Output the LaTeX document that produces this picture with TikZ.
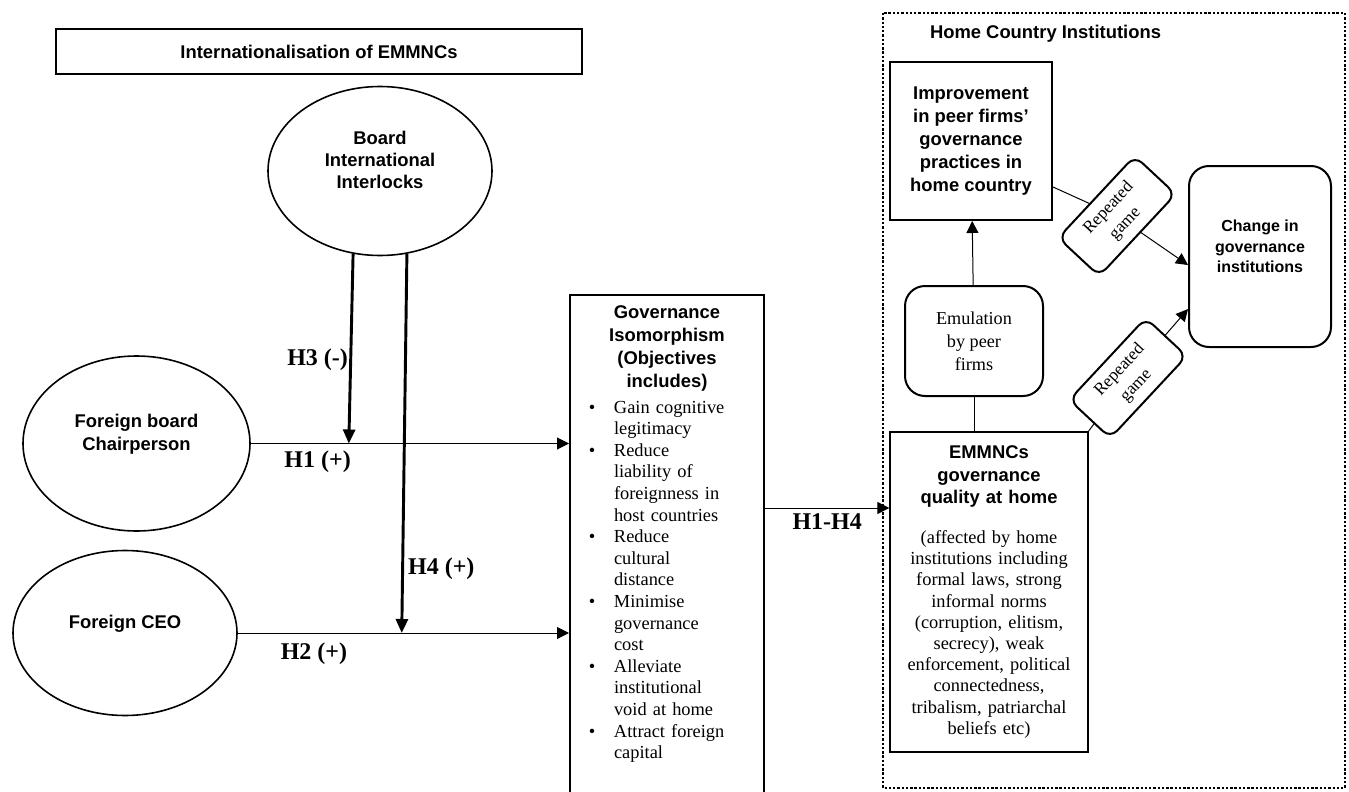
\documentclass[tikz,border=0pt]{standalone}
\usepackage{fontspec}
\setmainfont{Liberation Serif}
\setsansfont{Liberation Sans}
\usetikzlibrary{shapes.geometric,arrows.meta,positioning}

\newcommand{\hdfont}{\sffamily\bfseries\fontsize{13.8}{16.8}\selectfont}
\newcommand{\bodyfont}{\rmfamily\mdseries\fontsize{13.8}{15.9}\selectfont}
\newcommand{\bul}{\makebox[33pt]{\textbullet}}

\tikzset{
  sqbox/.style={draw, line width=1.5pt, align=center, inner sep=2pt, font=\hdfont},
  oval/.style={ellipse, draw, line width=1.2pt, align=center, inner sep=0pt, font=\hdfont},
  softbox/.style={draw, line width=1.5pt, rounded corners=15pt, align=center},
  gamebox/.style={draw, line width=1.5pt, rounded corners=7.5pt, rotate=47, align=center,
    minimum width=84pt, minimum height=42pt, inner sep=1pt, font=\rmfamily\fontsize{13}{17}\selectfont},
  conn/.style={line width=0.75pt, -{Triangle[length=9pt,width=9pt]}},
  link/.style={line width=0.75pt},
  modarrow/.style={line width=2.2pt, -{Triangle[length=10.5pt,width=9pt]}},
  hyp/.style={font=\rmfamily\bfseries\fontsize{18}{20}\selectfont, inner sep=1pt},
}

\begin{document}
\begin{tikzpicture}[x=0.75pt, y=-0.75pt]
  \useasboundingbox (0,0) rectangle (1349,792);
  % Left part: the board and its foreign members.
  \node[sqbox, minimum width=394.5pt, minimum height=33.75pt] (intl) at (319,51.5) {Internationalisation of EMMNCs};
  \node[oval, minimum width=168pt, minimum height=126.75pt] (board) at (380,171) {Board\\International\\Interlocks\\\mbox{}};
  \node[oval, minimum width=170.25pt, minimum height=131.25pt] (chair) at (136.5,443.5) {Foreign board\\Chairperson\\\mbox{}};
  \node[oval, minimum width=168pt, minimum height=123.75pt] (ceo) at (125,633) {Foreign CEO\\\mbox{}};
  % The isomorphism box runs past the bottom edge.
  \node[sqbox, text width=145.5pt, inner xsep=0pt, inner ysep=8pt, anchor=north] (gov) at (667,294) {%
    \fontsize{13.8}{17.25}\selectfont Governance\\Isomorphism\\(Objectives\\includes)\par
    \vspace{4pt}
    {\raggedright\noindent\rmfamily\mdseries\fontsize{13.8}{16.2}\selectfont
    \begin{tabular}{@{}l@{}l@{}}
      \bul & Gain cognitive\\ & legitimacy\\
      \bul & Reduce\\ & liability of\\ & foreignness in\\ & host countries\\
      \bul & Reduce\\ & cultural\\ & distance\\
      \bul & Minimise\\ & governance\\ & cost\\
      \bul & Alleviate\\ & institutional\\ & void at home\\
      \bul & Attract foreign\\ & capital\\
    \end{tabular}\par}
    \noindent\rule{0pt}{60pt}};
  % Right part: home country institutions.
  \draw[line width=2pt, dash pattern=on 1.8pt off 1.4pt] (883,13) rectangle (1345,788);
  \node[font=\hdfont] (homelbl) at (1045.5,34) {Home Country Institutions};
  \node[sqbox, minimum width=121.5pt, minimum height=118.5pt, font=\sffamily\bfseries\fontsize{13.8}{17.25}\selectfont] (improve) at (971,141) {Improvement\\in peer firms'\\governance\\practices in\\home country};
  \node[softbox, minimum width=103.5pt, minimum height=82.5pt, font=\rmfamily\fontsize{13.65}{17.25}\selectfont] (emul) at (974,341) {Emulation\\by peer\\firms};
  \node[softbox, minimum width=106.5pt, minimum height=135.75pt, font=\sffamily\bfseries\fontsize{12}{15.4}\selectfont] (change) at (1260,256.5) {Change in\\governance\\institutions\\\mbox{}};
  \node[sqbox, text width=144pt, minimum height=240pt] (emmnc) at (989,592) {%
    EMMNCs\\governance\\quality at home\par
    \vspace{14pt}
    {\bodyfont (affected by home\\institutions including\\formal laws, strong\\informal norms\\(corruption, elitism,\\secrecy), weak\\enforcement, political\\connectedness,\\tribalism, patriarchal\\beliefs etc)\par}};
  \node[gamebox] (game1) at (1117,216) {Repeated\\game};
  \node[gamebox] (game2) at (1128,378) {Repeated\\game};
  % Hypotheses H1 to H4.
  \draw[conn] (chair.east) -- node[hyp, below=4pt, pos=.21] (h1lbl) {H1 (+)} coordinate[pos=.308] (h3end) (chair.east -| gov.west);
  \draw[conn] (ceo.east) -- node[hyp, below=6pt, pos=.23] (h2lbl) {H2 (+)} coordinate[pos=.495] (h4end) (ceo.east -| gov.west);
  \draw[modarrow] (board.252) -- node[hyp, left, pos=.56] (h3lbl) {H3 (-)} (h3end);
  \draw[modarrow] (board.288) -- node[hyp, right=2pt, pos=.83] (h4lbl) {H4 (+)} (h4end);
  \coordinate (h14start) at ([yshift=-160.5pt]gov.north east);
  \draw[conn] (h14start) -- node[hyp, below=3pt] (h14lbl) {H1-H4} (h14start -| emmnc.west);
  % Links inside the home country.
  \draw[conn] (emul) -- (improve);
  \draw[link] (emul.south) -- (emul.south |- emmnc.north);
  \draw[link] ([yshift=-34.5pt]improve.east) -- (game1);
  \draw[conn] (game1) -- ([yshift=-6.4pt]change.west);
  \draw[link] (emmnc.north east) -- (game2);
  \draw[conn] (game2) -- ([yshift=-39.4pt]change.west);
\end{tikzpicture}
\end{document}
